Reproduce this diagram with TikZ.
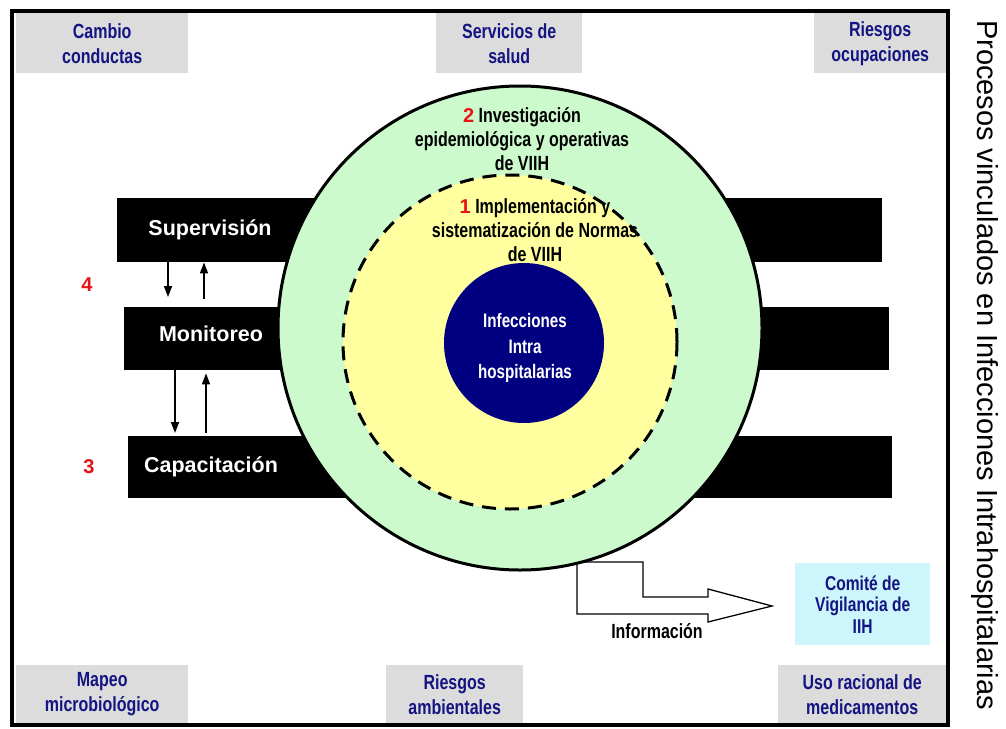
\documentclass[tikz,border=0pt]{standalone}
\usepackage{fontspec}
\setmainfont{Liberation Sans}
\newfontfamily\narfont[FakeStretch=0.78]{Liberation Sans}
\usetikzlibrary{arrows.meta,calc}
\definecolor{boxgray}{RGB}{220,220,220}
\definecolor{navytext}{RGB}{20,20,130}
\definecolor{ringgreen}{RGB}{204,250,204}
\definecolor{ringyellow}{RGB}{255,255,160}
\definecolor{corenavy}{RGB}{0,0,128}
\definecolor{comitecyan}{RGB}{204,246,252}
\definecolor{numred}{RGB}{230,20,20}
\newcommand{\rednum}[1]{\textcolor{numred}{\normalfont\bfseries\fontsize{20}{24}\selectfont #1}}
\begin{document}
\begin{tikzpicture}[x=1pt,y=-1pt,
  graybox/.style={fill=boxgray, draw=none, inner sep=0pt, anchor=north west,
    text=navytext, font=\narfont\bfseries\fontsize{20.5}{25}\selectfont, align=center},
  bar/.style={fill=black, draw=none, inner sep=0pt, anchor=north west},
  bartext/.style={text=white, font=\bfseries\fontsize{21.5}{24}\selectfont},
  ringtext/.style={font=\narfont\bfseries\fontsize{20.5}{24}\selectfont, align=center},
  num/.style={text=numred, font=\bfseries\fontsize{20}{24}\selectfont},
  vline/.style={line width=1.6pt, -{Triangle[width=8pt,length=11pt]}},
]
\useasboundingbox (0,0) rectangle (1006,728);
\fill[white] (0,0) rectangle (1006,728);

% gray corner boxes
\node[graybox, minimum width=172pt, minimum height=60pt] (cambio) at (16,13) {Cambio\\conductas};
\node[graybox, minimum width=146pt, minimum height=60pt] (servicios) at (436,13) {Servicios de\\salud};
\node[graybox, minimum width=132pt, minimum height=60pt] (ocup) at (814,13) {Riesgos\\ocupaciones};
\node[graybox, minimum width=172pt, minimum height=58pt] (mapeo) at (16,665) {Mapeo\\microbiológico};
\node[graybox, minimum width=137pt, minimum height=58pt] (amb) at (386,665) {Riesgos\\ambientales};
\node[graybox, minimum width=168pt, minimum height=58pt] (uso) at (778,665) {Uso racional de\\medicamentos};

% black bars
\node[bar, minimum width=765pt, minimum height=64pt] (sup) at (117,198) {};
\node[bar, minimum width=765pt, minimum height=63pt] (mon) at (124,307) {};
\node[bar, minimum width=764pt, minimum height=62pt] (cap) at (128,436) {};
\node[bartext] (tsup) at (210,230) {Supervisión};
\node[bartext] (tmon) at (211,334) {Monitoreo};
\node[bartext] (tcap) at (211,467) {Capacitación};
\node[num] (n4) at (87,285) {4};
\node[num] (n3) at (89,467) {3};

% arrows between bars
\draw[vline] ($(sup.south west)+(51,0)$) -- ($(mon.north west)+(44,-10)$);
\draw[vline] ($(mon.north west)+(80,-8)$) -- ($(sup.south west)+(87,0)$);
\draw[vline] ($(mon.south west)+(51,0)$) -- ($(cap.north west)+(47,-3)$);
\draw[vline] ($(cap.north west)+(78,-3)$) -- ($(mon.south west)+(82,3)$);

% information arrow
\draw[fill=white, line width=1.3pt] (577,562) -- (643,562) -- (643,597) -- (708,597) -- (708,589)
  -- (772,606) -- (708,622) -- (708,614) -- (577,614) -- cycle;

% rings
\node[circle, minimum size=484pt, inner sep=0pt, fill=ringgreen, draw=black, line width=3pt] (outer) at (520,328) {};
\node[circle, minimum size=334pt, inner sep=0pt, fill=ringyellow, draw=black, line width=3pt,
  dash pattern=on 14pt off 9pt] (mid) at (510,342) {};
\node[circle, minimum size=160pt, inner sep=0pt, fill=corenavy] (core) at (524,343) {};

\node[ringtext] (t2) at (522,139) {\rednum{2} Investigación\\epidemiológica y operativas\\de VIIH};
\node[ringtext] (t1) at (535,230) {\rednum{1} Implementación y\\sistematización de Normas\\de VIIH};
\node[ringtext, text=white, font=\narfont\bfseries\fontsize{19.5}{25.5}\selectfont] (tcore) at (525,348) {Infecciones\\Intra\\hospitalarias};

% comite
\node[fill=comitecyan, inner sep=0pt, anchor=north west, minimum width=135pt, minimum height=82pt,
  text=navytext, font=\narfont\bfseries\fontsize{20}{21.5}\selectfont, align=center] (comite) at (795,563) {Comité de\\Vigilancia de\\IIH};
\node[font=\narfont\bfseries\fontsize{20.5}{21}\selectfont] (info) at (657,631) {Información};

% frame
\draw[line width=3.5pt] (12,11) rectangle (948,725);

% title
\node[rotate=-90, font=\fontsize{29}{32}\selectfont] (title) at (985,365) {Procesos vinculados en Infecciones Intrahospitalarias};
\end{tikzpicture}
\end{document}
